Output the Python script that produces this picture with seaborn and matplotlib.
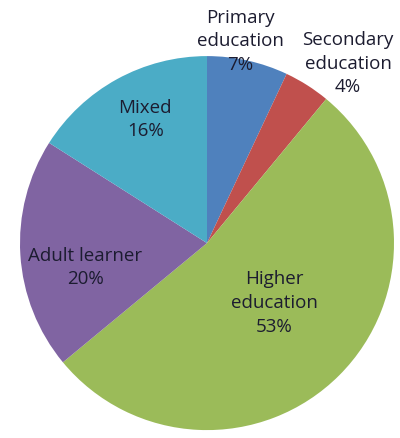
import matplotlib
matplotlib.use("Agg")
import matplotlib.pyplot as plt
import seaborn as sns

sns.set_theme(style="white")
plt.rcParams["font.family"] = ["Open Sans", "DejaVu Sans"]

# Share of learners by education sector (percent)
categories = ["Primary\neducation", "Secondary\neducation", "Higher\neducation",
              "Adult learner", "Mixed"]
shares = [7, 4, 53, 20, 16]
colors = ["#4F81BD", "#C0504D", "#9BBB59", "#8064A2", "#4BACC6"]

# label anchor points in pie units (radius = 1)
label_xy = [(0.18, 1.08), (0.755, 0.96), (0.36, -0.32), (-0.65, -0.13), (-0.33, 0.66)]

fig = plt.figure(figsize=(4.0, 4.38), dpi=100)
ax = fig.add_axes([0.05, 0.018, 0.935, 0.854])
wedges, _ = ax.pie(shares, colors=colors, startangle=90, counterclock=False,
                   radius=1.0, wedgeprops=dict(linewidth=0))
ax.set_xlim(-1, 1)
ax.set_ylim(-1, 1)
ax.set_aspect("equal")
ax.axis("off")

for name, val, (x, y) in zip(categories, shares, label_xy):
    ax.text(x, y, f"{name}\n{val}%", ha="center", va="center",
            fontsize=13.5, color="#1c1c30", linespacing=1.4)

fig.savefig("out.png", dpi=100)
